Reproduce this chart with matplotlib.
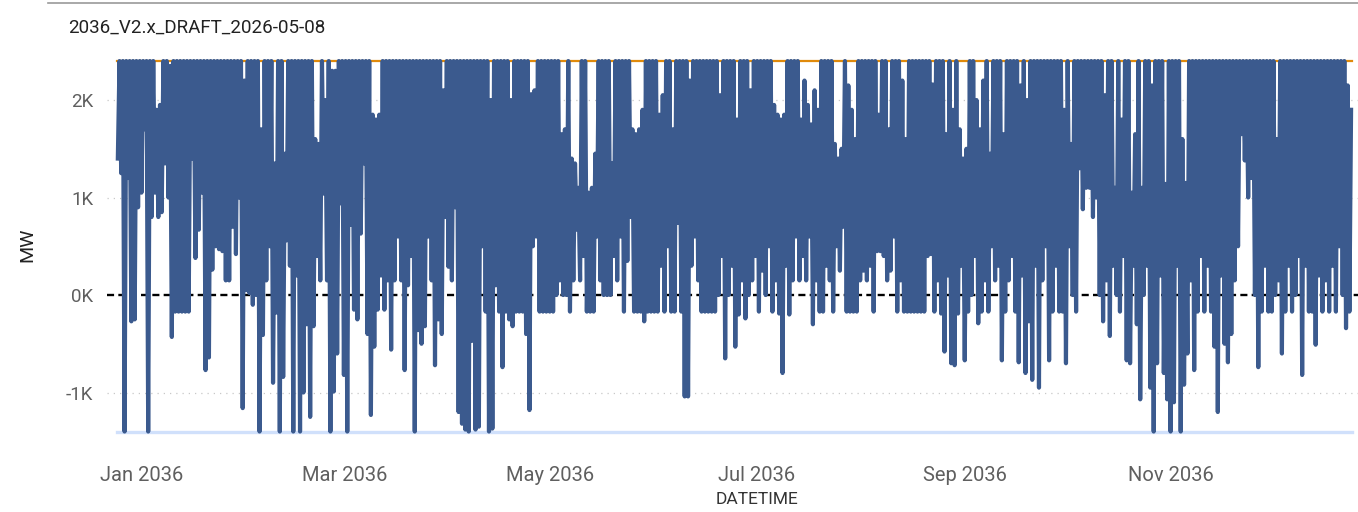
import numpy as np
import matplotlib
matplotlib.use("Agg")
import matplotlib.pyplot as plt
import matplotlib.dates as mdates
import matplotlib.transforms as mtransforms
from matplotlib.lines import Line2D

plt.rcParams['font.family'] = ['Roboto', 'DejaVu Sans']

TITLE = "2036_V2.x_DRAFT_2026-05-08"
Y_LABEL = "MW"
X_LABEL = "DATETIME"

# daily minimum (MW), one value per day of 2036
daily_low = [
    1400, 1250, -1400, 1200, -270, -250, 900, 1050, 1700, -1400,
    800, 1050, 800, 850, 1350, 1000, -430, -170, -170, -170,
    -170, -170, 1400, 380, 670, 1050, -770, -640, 260, 500,
    470, 450, 150, 150, 700, 420, 1000, -1160, 50, 20,
    -100, 0, -1400, -410, 150, 500, -900, -180, -1400, -840,
    560, 300, -1400, 200, -1400, -1000, -300, -1250, -320, 400,
    150, 1040, 150, -1400, -990, -600, 940, -820, -1400, 720,
    -150, -250, 630, 1350, -400, -1230, -530, -150, 200, -150,
    150, -560, 150, 600, 150, -770, 100, 400, -1400, -360,
    -500, -320, 600, 150, -720, -250, -400, 800, 290, 150,
    900, -1200, -1320, -1380, -1400, -470, -1380, -1350, 500, -170,
    -1400, -1370, 100, -170, -740, -170, -250, -320, -170, -170,
    -170, -400, -1180, 500, 600, -170, -170, -170, -170, -170,
    0, 150, 0, 0, -170, 150, 670, 150, 400, -170,
    -170, -170, 600, 150, 0, 0, 0, 400, 150, 600,
    -170, 350, 800, -170, -170, -170, -270, -170, -170, -170,
    -170, 300, -170, 500, -170, -170, 740, -170, -1040, -1040,
    300, 600, 150, -170, -170, -170, -170, -170, 0, 400,
    -650, 0, 300, -530, -200, 150, -240, 0, 150, 400,
    -170, 250, 0, 500, -170, 150, -190, -800, 300, -200,
    150, 600, 150, 400, 150, 600, -300, 150, -170, -170,
    300, 150, -170, 500, 250, 700, -170, -170, -170, -170,
    150, 250, 150, 300, -170, 450, 450, 400, 150, 250,
    600, -170, 150, -170, -170, -170, -170, -170, -170, -170,
    400, 420, -170, 150, -190, -580, 200, -700, -720, -190,
    300, -670, -170, 0, 400, -290, -170, 150, -170, 500,
    150, 300, -670, -170, 150, 400, -170, -690, 200, -800,
    -270, -870, 300, -950, 150, 500, -670, -170, 300, -170,
    -170, -700, 500, 0, -170, 1300, 880, 1100, 1100, 800,
    1000, 0, -270, 150, -420, 300, 0, -170, 400, -670,
    -700, 300, -300, -1070, 0, 300, -950, -1400, -700, 200,
    -800, -1070, -1400, -1100, 300, -1400, -920, -600, 150, -770,
    -170, 400, -170, 300, -170, -530, -1200, 200, -500, -690,
    -400, 150, 500, 1650, 1380, 1000, 1200, 0, -740, -170,
    300, -170, -170, 0, 150, -600, -170, 300, -170, 0,
    400, -820, 300, -170, -170, -510, 200, -170, 150, -170,
    300, -170, 500, 0, -340, -170,
]

# daily maximum (MW), mostly at the 2400 MW cap
daily_high = [
    2400, 2400, 2400, 2400, 2400, 2400, 2400, 2400, 2400, 2400,
    2400, 1900, 1950, 2400, 2400, 2350, 2400, 2400, 2400, 2400,
    2400, 2400, 2400, 2400, 2400, 2400, 2400, 2400, 2400, 2400,
    2400, 2400, 2400, 2400, 2400, 2400, 2400, 2200, 2400, 2400,
    2400, 2400, 1700, 2400, 2400, 2400, 1350, 2400, 2400, 1450,
    2400, 2400, 2400, 2400, 2400, 2400, 2400, 2400, 1600, 1550,
    2400, 2000, 2400, 2300, 2300, 2400, 2400, 2400, 2400, 2400,
    2400, 2400, 2400, 2400, 2400, 1850, 1800, 1850, 2400, 2400,
    2400, 2400, 2400, 2400, 2400, 2400, 2400, 2400, 2400, 2400,
    2400, 2400, 2400, 2400, 2400, 2400, 2100, 2400, 2400, 2400,
    2400, 2400, 2400, 2400, 2400, 2400, 2400, 2400, 2400, 2400,
    2000, 2400, 2400, 2400, 2400, 2400, 2000, 2400, 2400, 2400,
    2400, 2400, 2060, 2100, 2400, 2400, 2400, 2400, 2400, 2400,
    2400, 1650, 1700, 2400, 1400, 1350, 1100, 2400, 2400, 1050,
    1100, 1450, 2400, 2400, 2400, 2400, 1350, 2400, 2400, 2400,
    2400, 2400, 1700, 1650, 1700, 1900, 2400, 2400, 2400, 2400,
    1850, 2050, 2400, 2400, 1700, 2400, 2400, 2400, 2400, 2200,
    2400, 2400, 2400, 2400, 2400, 2400, 2400, 2400, 2050, 2400,
    2400, 2400, 2400, 1800, 2400, 2400, 2400, 2100, 2400, 2400,
    2400, 2400, 2400, 2400, 1950, 1850, 1800, 1850, 2400, 2400,
    2400, 2400, 1800, 2200, 1950, 1750, 2100, 1900, 2400, 2400,
    2400, 2400, 1550, 1400, 1500, 2400, 2150, 1900, 1600, 2400,
    2400, 2400, 2400, 2400, 2400, 1850, 2400, 2400, 1700, 2400,
    2400, 2400, 2200, 1600, 2400, 2400, 2400, 2400, 2400, 2400,
    2400, 2160, 2400, 2400, 2400, 1650, 2400, 1900, 2400, 1700,
    1400, 1500, 2400, 2400, 2000, 1700, 2200, 2400, 1450, 2400,
    2400, 2400, 1650, 2400, 2400, 2400, 2400, 2150, 2400, 2000,
    2400, 2400, 2400, 2400, 2400, 2400, 2400, 2400, 2400, 2400,
    1900, 2400, 1550, 2400, 2400, 2400, 2400, 2400, 2400, 2400,
    2400, 2400, 2050, 2400, 2400, 1100, 2400, 1800, 2400, 2400,
    1050, 1650, 2400, 1100, 2400, 2400, 2150, 2400, 2400, 2400,
    1140, 2400, 2400, 2400, 2400, 1600, 1150, 2400, 2400, 2400,
    2400, 2400, 2400, 2400, 2400, 2400, 2400, 2400, 2400, 2400,
    2400, 2400, 2400, 2400, 2400, 2400, 2400, 2400, 2400, 2400,
    2400, 2400, 2400, 1600, 2400, 2400, 2400, 2400, 2400, 2400,
    2400, 2400, 2400, 2400, 2400, 2400, 2400, 2400, 2400, 2400,
    2400, 2400, 2400, 2400, 2150, 1900,
]

max_limit = 2400
min_limit = -1400

y_ticks = [-1000, 0, 1000, 2000]
y_tick_labels = ["-1K", "0K", "1K", "2K"]
x_ticks = ["2036-01-01", "2036-03-01", "2036-05-01", "2036-07-01", "2036-09-01", "2036-11-01"]

# interleave: low in the early hours, peak later in the day
start = np.datetime64("2036-01-01T00:00")
days = np.arange(len(daily_low))
t_low = start + (days * 24 + 6).astype("timedelta64[h]")
t_high = start + (days * 24 + 18).astype("timedelta64[h]")
t = np.empty(2 * len(days), dtype="datetime64[h]")
t[0::2] = t_low
t[1::2] = t_high
v = np.empty(2 * len(days))
v[0::2] = daily_low
v[1::2] = daily_high
t = t.astype("datetime64[s]").astype(object)

t_first = np.datetime64("2036-01-01T00:00").astype(object)
t_last = np.datetime64("2037-01-01T00:00").astype(object)

fig = plt.figure(figsize=(13.58, 5.12), dpi=100)
ax = fig.add_axes([107 / 1358, (512 - 448) / 512, (1358 - 107) / 1358, 393 / 512])

for yv in [-1000, 1000, 2000]:
    ax.axhline(yv, color="#c8c8c8", lw=0.9, ls=(0, (1, 4)), zorder=0)
ax.axhline(0, color="black", lw=1.7, ls=(0, (3.0, 1.8)), zorder=1)

ax.plot([t_first, t_last], [max_limit, max_limit], color="#E08A0B", lw=1.6, zorder=2)
ax.plot([t_first, t_last], [min_limit, min_limit], color="#D0E0FB", lw=2.4, zorder=2)
ax.plot(t, v, color="#3B5A8E", lw=3.0, zorder=3)

d0 = mdates.date2num(t_first)
ax.set_xlim(d0 - 2.96, d0 + 367.8)
ax.set_ylim(-1569, 2462)

ax.set_yticks(y_ticks)
ax.set_yticklabels(y_tick_labels)
ax.set_xticks([mdates.date2num(np.datetime64(d).astype(object)) for d in x_ticks])
ax.xaxis.set_major_formatter(mdates.DateFormatter("%b %Y"))

ax.tick_params(axis="both", length=0, colors="#5f5f5f")
ax.tick_params(axis="y", labelsize=13.5, pad=10)
ax.tick_params(axis="x", labelsize=14.5, pad=13)
offset = mtransforms.ScaledTranslation(25 / 100, 0, fig.dpi_scale_trans)
for lab in ax.get_xticklabels():
    lab.set_transform(lab.get_transform() + offset)

for s in ax.spines.values():
    s.set_visible(False)

fig.text(68 / 1358, 1 - 28 / 512, TITLE, fontsize=13.5, color="#222222", va="center", ha="left")
fig.text(27 / 1358, 1 - 245 / 512, Y_LABEL, fontsize=14, color="#222222", rotation=90, va="center", ha="center")
fig.text(757 / 1358, 1 - 500 / 512, X_LABEL, fontsize=12.5, color="#333333", va="center", ha="center")
fig.add_artist(Line2D([48 / 1358, 1.0], [1 - 3 / 512, 1 - 3 / 512], color="#9a9a9a", lw=1.2))

fig.savefig("out.png", dpi=100)
